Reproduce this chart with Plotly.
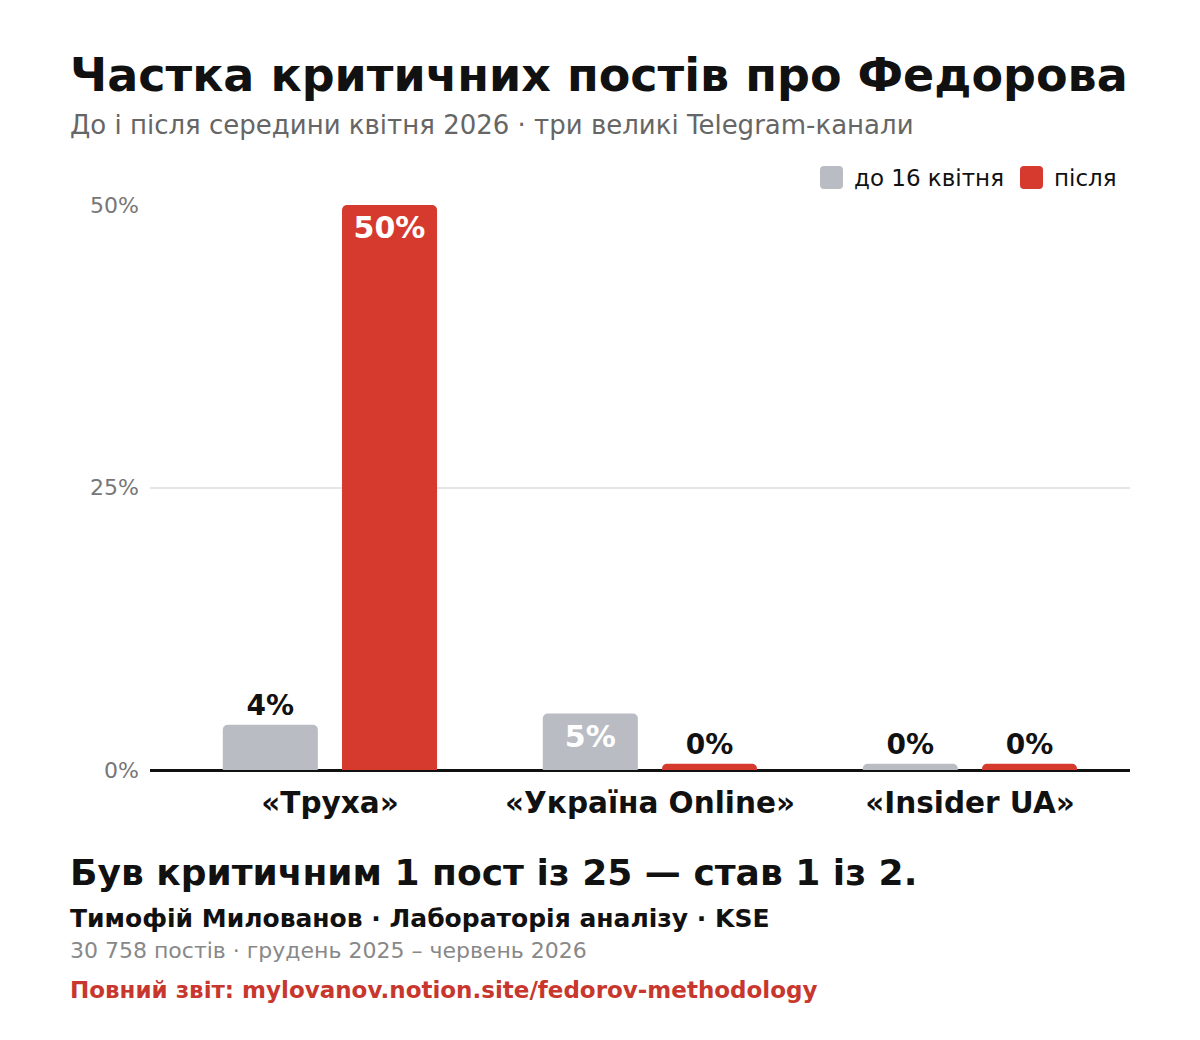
import plotly.graph_objects as go

categories = ["«Труха»", "«Україна Online»", "«Insider UA»"]
before_vals = [4, 5, 0]
after_vals = [50, 0, 0]
series_names = ["до 16 квітня", "після"]
y_ticks = [0, 25, 50]
y_tick_labels = ["0%", "25%", "50%"]

title = "Частка критичних постів про Федорова"
subtitle = "До і після середини квітня 2026 · три великі Telegram-канали"
takeaway = "Був критичним 1 пост із 25 — став 1 із 2."
author = "Тимофій Милованов · Лабораторія аналізу · KSE"
note = "30 758 постів · грудень 2025 – червень 2026"
link = "Повний звіт: mylovanov.notion.site/fedorov-methodology"

GRAY = "#babcc4"
RED = "#d63a2f"
FONT = "DejaVu Sans"

W, H = 1200, 1040
L, R, T, B = 150, 70, 205, 270
PW, PH = W - L - R, H - T - B


def px(x):
    return (x - L) / PW


def py(y):
    return (H - B - y) / PH


STUB = 0.55  # minimum visible height for zero bars


def disp(vals):
    return [max(v, STUB) for v in vals]


def positions(vals, min_inside):
    return ["inside" if v >= min_inside else "outside" for v in vals]


fig = go.Figure()
for name, vals, color, off in [
    (series_names[0], before_vals, GRAY, -0.335),
    (series_names[1], after_vals, RED, 0.0375),
]:
    fig.add_trace(go.Bar(
        name=name,
        x=categories,
        y=disp(vals),
        width=0.297,
        offset=off,
        marker=dict(color=color, cornerradius=5, line=dict(width=0)),
        text=[f"{v}%" for v in vals],
        textposition=positions(vals, 5),
        insidetextanchor="end",
        insidetextfont=dict(family=FONT, size=30, color="white", weight="bold"),
        outsidetextfont=dict(family=FONT, size=28, color="#111111", weight="bold"),
        cliponaxis=False,
        hoverinfo="skip",
        showlegend=False,
    ))

annotations = [
    dict(text=f"<b>{title}</b>", x=px(68), y=py(75), font=dict(size=46, color="#111111")),
    dict(text=subtitle, x=px(68), y=py(125), font=dict(size=26, color="#666666")),
    dict(text=f"<b>{takeaway}</b>", x=px(68), y=py(872), font=dict(size=36, color="#111111")),
    dict(text=f"<b>{author}</b>", x=px(68), y=py(918), font=dict(size=25, color="#111111")),
    dict(text=note, x=px(68), y=py(950), font=dict(size=22, color="#888888")),
    dict(text=f"<b>{link}</b>", x=px(68), y=py(990), font=dict(size=23, color="#c8372d")),
    # legend labels
    dict(text=series_names[0], x=px(852), y=py(178), font=dict(size=23, color="#111111")),
    dict(text=series_names[1], x=px(1052), y=py(178), font=dict(size=23, color="#111111")),
]
for a in annotations:
    a.update(xref="paper", yref="paper", xanchor="left", yanchor="middle",
             showarrow=False)
    a["font"]["family"] = FONT


def rounded_rect(x0, y0, x1, y1, r):
    # pixel coords -> paper path with rounded corners
    X = lambda v: px(v)
    Y = lambda v: py(v)
    return (f"M {X(x0 + r)},{Y(y0)} L {X(x1 - r)},{Y(y0)} Q {X(x1)},{Y(y0)} {X(x1)},{Y(y0 + r)} "
            f"L {X(x1)},{Y(y1 - r)} Q {X(x1)},{Y(y1)} {X(x1 - r)},{Y(y1)} "
            f"L {X(x0 + r)},{Y(y1)} Q {X(x0)},{Y(y1)} {X(x0)},{Y(y1 - r)} "
            f"L {X(x0)},{Y(y0 + r)} Q {X(x0)},{Y(y0)} {X(x0 + r)},{Y(y0)} Z")


shapes = [
    dict(type="path", xref="paper", yref="paper", path=rounded_rect(820, 166, 843, 189, 4),
         fillcolor=GRAY, line=dict(width=0)),
    dict(type="path", xref="paper", yref="paper", path=rounded_rect(1020, 166, 1043, 189, 4),
         fillcolor=RED, line=dict(width=0)),
]

fig.update_layout(
    width=W, height=H,
    margin=dict(l=L, r=R, t=T, b=B, pad=0),
    paper_bgcolor="white", plot_bgcolor="white",
    font=dict(family=FONT),
    barmode="overlay",
    showlegend=False,
    annotations=annotations,
    shapes=shapes,
    xaxis=dict(range=[-0.5625, 2.5], showgrid=False, showline=False, zeroline=False,
               ticks="", tickfont=dict(size=29.5, color="#111111", weight="bold"),
               ticklabelstandoff=12, fixedrange=True),
    yaxis=dict(range=[0, 50], tickvals=y_ticks, ticktext=y_tick_labels,
               showgrid=True, gridcolor="#e6e6e6", gridwidth=1.5,
               zeroline=True, zerolinecolor="#111111", zerolinewidth=2.5,
               showline=False, ticks="", ticklabelstandoff=10,
               tickfont=dict(size=22, color="#777777"), fixedrange=True),
)

fig.write_html("out.html")
